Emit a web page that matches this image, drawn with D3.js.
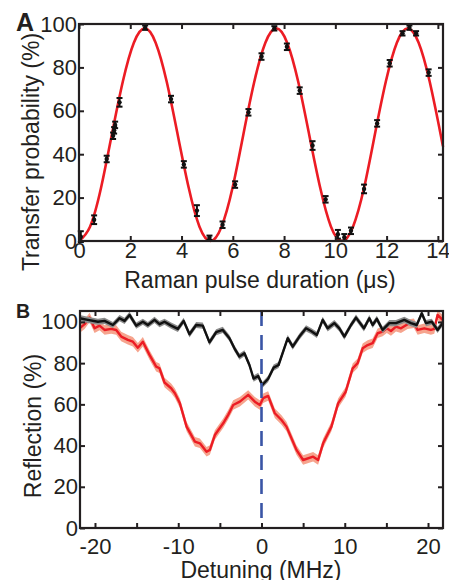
<!DOCTYPE html>
<html>
<head>
<meta charset="utf-8">
<script src="https://cdn.jsdelivr.net/npm/d3@7"></script>
<style>
  body { margin: 0; background: #fff; }
  svg { display: block; font-family: "Liberation Sans", Arial, sans-serif; }
</style>
</head>
<body>
<script>
// Panel A: Rabi flopping, measured points with error bars
const rabi_t = [0.07, 0.59, 1.08, 1.33, 1.37, 1.41, 1.58, 2.58, 3.59, 4.09, 4.6, 5.09, 5.6, 6.09, 6.61, 7.12,
  7.62, 8.11, 8.61, 9.11, 9.62, 10.1, 10.35, 10.61, 11.12, 11.63, 12.12, 12.62, 12.89, 13.15, 13.64];
const rabi_p = [2, 9.8, 37.8, 48.5, 51, 53.5, 63.9, 98.3, 65.4, 35.3, 14, 1.5, 7.5, 26, 59.3, 85,
  98, 89.5, 69.3, 44, 19.2, 3.1, 1.7, 4.7, 24, 54.2, 81.9, 95.7, 98.3, 95.7, 77.6];
const rabi_err = [2.5, 2, 1.5, 1.5, 1.5, 1.5, 2, 1, 1.5, 1.5, 2.5, 1, 1.5, 1.5, 1.5, 1.5,
  1, 1.5, 1.5, 2, 1.5, 2, 1.5, 1.5, 2, 1.5, 1.5, 1, 1, 1, 1.5];

// Panel A: fitted curve
const fit_t = [0, 0.43, 0.86, 1.28, 1.71, 2.14, 2.57, 2.99, 3.42, 3.85, 4.28, 4.70, 5.13, 5.56, 5.99, 6.41,
  6.84, 7.27, 7.70, 8.12, 8.55, 8.98, 9.41, 9.83, 10.26, 10.69, 11.12, 11.54, 11.97, 12.40, 12.83, 13.25,
  13.68, 14.11, 14.2];
const fit_p = [0, 6.6, 24.5, 49, 73.5, 91.4, 98, 91.4, 73.5, 49, 24.5, 6.6, 0, 6.6, 24.5, 49,
  73.5, 91.4, 98, 91.4, 73.5, 49, 24.5, 6.6, 0, 6.6, 24.5, 49, 73.5, 91.4, 98, 91.4,
  73.5, 49, 43.5];

// Panel B: reflection spectra
const black_det = [-21.85, -20.85, -19.65, -18.85, -17.85, -17.05, -16.45, -15.85, -15.05, -14.25, -13.65,
  -12.85, -12.25, -11.65, -10.85, -10.05, -9.35, -8.65, -7.85, -7.05, -6.25, -5.45, -4.65, -3.85, -3.25,
  -2.65, -2.05, -1.45, -0.95, -0.4, 0.1, 0.8, 1.45, 2.05, 3.15, 3.75, 4.55, 5.35, 5.95, 6.65, 7.35, 7.95,
  8.75, 9.35, 9.95, 10.75, 11.35, 12.3, 12.95, 13.35, 13.85, 14.55, 15.35, 16.15, 17.15, 17.95, 18.65,
  19.25, 19.75, 20.45, 21.15, 21.75];
const black_refl = [101.8, 101, 100.1, 100.5, 98.5, 101.8, 100.5, 103.4, 98.2, 100.1, 98.5,
  101, 98.9, 100.1, 98.2, 96.6, 100.5, 94, 98.5, 98.2, 90.1, 95, 96.1, 92.1, 87.2,
  83.2, 84.8, 79.1, 72.5, 73.8, 69.4, 72.4, 77.8, 79.1, 92.1, 88, 92.9, 96.9, 95.6, 93.7, 101, 96.9,
  99.4, 96.9, 92.9, 98.5, 102.1, 96.9, 101.8, 98.5, 101.5, 96.1, 99.4, 99.4, 101, 99.4, 98.5,
  104.2, 99.4, 100.1, 96.1, 99.4];

const red_det = [-21.85, -21.25, -20.65, -20.05, -19.45, -18.85, -18.05, -17.45, -16.85, -16.05, -15.45,
  -14.85, -14.25, -13.45, -12.65, -12.25, -11.65, -10.85, -10.4, -9.8, -9.0, -8.0, -7.4, -6.6, -6.2,
  -5.6, -4.6, -4.0, -3.4, -2.6, -1.6, -0.8, -0.2, 0.2, 0.8, 1.6, 2.4, 3.0, 4.2, 5.0, 6.2, 6.8, 7.4,
  8.4, 9.2, 10.1, 10.95, 11.55, 12.15, 12.75, 13.35, 13.95, 14.55, 15.05, 15.55, 16.15, 16.75, 17.55,
  18.3, 18.75, 19.55, 20.35, 20.75, 21.15, 21.75];
const red_refl = [96.9, 98.9, 102.1, 96.9, 98.2, 96.1, 96.6, 96.1, 92.9, 91.3, 90.4,
  87.5, 90.4, 84, 78.3, 77.5, 70.6, 67.8, 65.4, 60.5, 49.2, 41.9, 41.1, 37, 37.9,
  45.1, 50.8, 54.9, 59.7, 61.3, 64.6, 61.3, 59.7, 63, 64.1, 55.7, 52.4, 49.2, 37.9, 33, 34.6, 33, 41.1,
  49.2, 60.5, 66, 77.5, 80, 87.2, 88.8, 89.7, 94.5, 95.3, 96.9, 95.6, 97.7, 96.9, 98.9,
  99.4, 96.1, 96.9, 96.1, 96.6, 103.4, 101];

const black_band = 1.5;
const red_band = 2.3;

const a_x_ticks = [0, 2, 4, 6, 8, 10, 12, 14];
const pct_ticks = [0, 20, 40, 60, 80, 100];
const b_x_ticks = [-20, -15, -10, -5, 0, 5, 10, 15, 20];

const width = 449, height = 580;
const ink = '#231f20';
const tick_font = 22;
const label_font = 23;
const tick_len = 5;

const box_a = {left: 79, top: 24, right: 443, bottom: 241};
const box_b = {left: 80, top: 311, right: 443, bottom: 528};

const svg = d3.select('body').append('svg')
  .attr('width', width)
  .attr('height', height);

const xa = d3.scaleLinear().domain([0, 14.2]).range([box_a.left, box_a.right]);
const ya = d3.scaleLinear().domain([0, 100]).range([box_a.bottom, box_a.top]);
const xb = d3.scaleLinear().domain([-21.8, 21.8]).range([box_b.left, box_b.right]);
const yb = d3.scaleLinear().domain([0, 105.3]).range([box_b.bottom, box_b.top]);

// draws the matlab style box with inward ticks on all four sides
function drawFrame(x, y, box, x_ticks, x_fmt, x_pad) {
  const g = svg.append('g');

  g.append('g')
    .attr('transform', `translate(0,${box.bottom})`)
    .call(d3.axisBottom(x).tickValues(x_ticks).tickSize(-tick_len).tickPadding(x_pad).tickFormat(x_fmt));
  g.append('g')
    .attr('transform', `translate(0,${box.top})`)
    .call(d3.axisTop(x).tickValues(x_ticks).tickSize(-tick_len).tickFormat(''));
  g.append('g')
    .attr('transform', `translate(${box.left},0)`)
    .call(d3.axisLeft(y).tickValues(pct_ticks).tickSize(-tick_len).tickPadding(2).tickFormat(d => d));
  g.append('g')
    .attr('transform', `translate(${box.right},0)`)
    .call(d3.axisRight(y).tickValues(pct_ticks).tickSize(-tick_len).tickFormat(''));

  g.selectAll('.domain').remove();
  g.selectAll('.tick line').attr('stroke', ink).attr('stroke-width', 2);
  g.selectAll('.tick text')
    .attr('fill', ink)
    .style('font-size', tick_font + 'px')
    .style('font-family', '"Liberation Sans", Arial, sans-serif');

  g.append('rect')
    .attr('x', box.left)
    .attr('y', box.top)
    .attr('width', box.right - box.left)
    .attr('height', box.bottom - box.top)
    .attr('fill', 'none')
    .attr('stroke', ink)
    .attr('stroke-width', 2.2);
  return g;
}

// ---------- panel A ----------
const fit_pts = fit_t.map((t, i) => [t, fit_p[i]]);
svg.append('path')
  .datum(fit_pts)
  .attr('d', d3.line().x(d => xa(d[0])).y(d => ya(d[1])).curve(d3.curveNatural))
  .attr('fill', 'none')
  .attr('stroke', '#ec1c24')
  .attr('stroke-width', 2.6);

const rabi = rabi_t.map((t, i) => ({t, p: rabi_p[i], e: rabi_err[i]}));
const bars = svg.append('g').attr('stroke', '#111').attr('stroke-width', 2)
  .selectAll('g').data(rabi).join('g');
bars.append('line')
  .attr('x1', d => xa(d.t)).attr('x2', d => xa(d.t))
  .attr('y1', d => ya(d.p - d.e)).attr('y2', d => ya(d.p + d.e));
bars.append('line')
  .attr('x1', d => xa(d.t) - 3).attr('x2', d => xa(d.t) + 3)
  .attr('y1', d => ya(d.p - d.e)).attr('y2', d => ya(d.p - d.e));
bars.append('line')
  .attr('x1', d => xa(d.t) - 3).attr('x2', d => xa(d.t) + 3)
  .attr('y1', d => ya(d.p + d.e)).attr('y2', d => ya(d.p + d.e));
bars.append('circle')
  .attr('cx', d => xa(d.t)).attr('cy', d => ya(d.p))
  .attr('r', 2.2).attr('fill', '#111').attr('stroke', 'none');

drawFrame(xa, ya, box_a, a_x_ticks, d => d, 1);

// ---------- panel B ----------
function drawTrace(det, refl, band, band_fill, line_stroke) {
  const pts = det.map((d, i) => [d, refl[i]]);
  svg.append('path')
    .datum(pts)
    .attr('d', d3.area().x(d => xb(d[0])).y0(d => yb(d[1] - band)).y1(d => yb(d[1] + band)))
    .attr('fill', band_fill);
  svg.append('path')
    .datum(pts)
    .attr('d', d3.line().x(d => xb(d[0])).y(d => yb(d[1])))
    .attr('fill', 'none')
    .attr('stroke', line_stroke)
    .attr('stroke-width', 2.4)
    .attr('stroke-linejoin', 'round');
}

drawTrace(red_det, red_refl, red_band, '#f6a48e', '#ec1c24');
drawTrace(black_det, black_refl, black_band, '#8c8c8c', '#111');

svg.append('line')
  .attr('x1', xb(0)).attr('x2', xb(0))
  .attr('y1', box_b.top).attr('y2', box_b.bottom)
  .attr('stroke', '#3a55a6')
  .attr('stroke-width', 2.6)
  .attr('stroke-dasharray', '15 9');

drawFrame(xb, yb, box_b, b_x_ticks, d => (d % 10 === 0 ? String(d) : ''), 10);

// ---------- labels ----------
const text = (x, y, str, opts = {}) => svg.append('text')
  .attr('x', x).attr('y', y)
  .attr('fill', ink)
  .attr('text-anchor', opts.anchor || 'middle')
  .attr('font-size', opts.size || label_font)
  .attr('font-weight', opts.weight || 'normal')
  .attr('transform', opts.rotate ? `rotate(-90,${x},${y})` : null)
  .text(str);

text(16, 31, 'A', {anchor: 'start', size: 25, weight: 'bold'});
text(16, 318, 'B', {anchor: 'start', size: 19.5, weight: 'bold'});

text(260, 288, 'Raman pulse duration (\u03bcs)');
text(39, 152, 'Transfer probability (%)', {rotate: true});

text(261, 578, 'Detuning (MHz)');
text(41, 426, 'Reflection (%)', {rotate: true});
</script>
</body>
</html>
